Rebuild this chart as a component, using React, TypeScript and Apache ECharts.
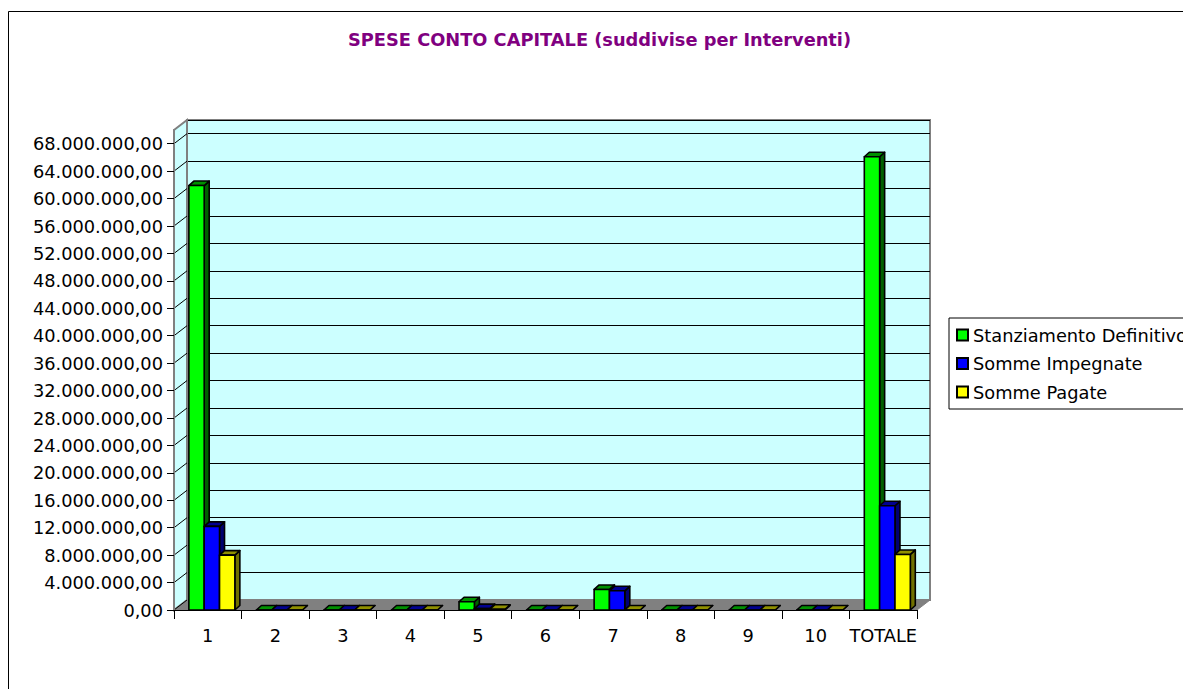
import React, { useEffect, useRef } from "react";
import * as echarts from "echarts";

const categories = ["1", "2", "3", "4", "5", "6", "7", "8", "9", "10", "TOTALE"];
const stanziamento = [61900000, 0, 0, 0, 1200000, 0, 3000000, 0, 0, 0, 66100000];
const impegnate = [12200000, 0, 0, 0, 200000, 0, 2800000, 0, 0, 0, 15200000];
const pagate = [8000000, 0, 0, 0, 100000, 0, 0, 0, 0, 0, 8100000];
const tickValues = [0, 4e6, 8e6, 12e6, 16e6, 20e6, 24e6, 28e6, 32e6, 36e6, 40e6, 44e6, 48e6, 52e6, 56e6, 60e6, 64e6, 68e6];
const seriesNames = ["Stanziamento Definitivo", "Somme Impegnate", "Somme Pagate"];
const seriesValues = [stanziamento, impegnate, pagate];
const frontColors = ["#00ff00", "#0000ff", "#ffff00"];
const topColors = ["#009000", "#000090", "#909000"];
const sideColors = ["#006000", "#000070", "#707000"];

const FONT = "DejaVu Sans";
const FS = 17.8;

function fmt(v: number): string {
  return Math.round(v).toString().replace(/\B(?=(\d{3})+(?!\d))/g, ".") + ",00";
}

export default function App() {
  const ref = useRef<HTMLDivElement>(null);
  useEffect(() => {
    if (!ref.current) return;
    const chart = echarts.init(ref.current, null, { renderer: "svg" });
    const DX = 5;
    const DY = -4.5;
    const barSeries = seriesValues.map((vals, s) => ({
      type: "custom",
      name: seriesNames[s],
      xAxisIndex: 0,
      yAxisIndex: 0,
      z: 10,
      itemStyle: { color: frontColors[s] },
      data: vals.map((v, i) => [i, v]),
      renderItem: (params: any, api: any) => {
        const cat = api.value(0);
        const v = api.value(1);
        const top = api.coord([cat, v]);
        const base = api.coord([cat, 0]);
        const bw = api.size([1, 0])[0];
        const w = bw * 0.227;
        const x0 = top[0] - bw * 0.28 + s * w;
        const ty = top[1];
        const by = base[1];
        const stroke = { stroke: "#000", lineWidth: 1.6, lineJoin: "round" };
        return {
          type: "group",
          children: [
            {
              type: "polygon",
              z2: s * 10,
              shape: { points: [[x0 + w, ty], [x0 + w + DX, ty + DY], [x0 + w + DX, by + DY], [x0 + w, by]] },
              style: { fill: sideColors[s], ...stroke },
            },
            {
              type: "polygon",
              z2: s * 10 + 1,
              shape: { points: [[x0, ty], [x0 + DX, ty + DY], [x0 + w + DX, ty + DY], [x0 + w, ty]] },
              style: { fill: topColors[s], ...stroke },
            },
            {
              type: "rect",
              z2: s * 10 + 2,
              shape: { x: x0, y: ty, width: w, height: Math.max(0, by - ty) },
              style: { fill: frontColors[s], ...stroke },
            },
          ],
        };
      },
    }));

    const option: any = {
      animation: false,
      backgroundColor: "#fff",
      title: {
        text: "SPESE CONTO CAPITALE (suddivise per Interventi)",
        left: 348,
        top: 30,
        padding: 0,
        textStyle: { fontFamily: FONT, fontSize: 17.8, fontWeight: "bold", color: "#800080" },
      },
      legend: {
        orient: "vertical",
        left: 949,
        top: 318,
        padding: [8, 40, 8, 7],
        itemGap: 10.5,
        itemWidth: 11,
        itemHeight: 11,
        borderColor: "#000",
        borderWidth: 1,
        backgroundColor: "#fff",
        textStyle: { fontFamily: FONT, fontSize: FS, color: "#000" },
        data: seriesNames.map((n, i) => ({
          name: n,
          icon: "rect",
          itemStyle: { color: frontColors[i], borderColor: "#000", borderWidth: 2 },
        })),
      },
      grid: [
        { left: 174, top: 130, width: 743, height: 480, show: false },
        {
          left: 187,
          top: 120,
          width: 743,
          height: 480,
          show: true,
          backgroundColor: "#ccffff",
          borderColor: "#808080",
          borderWidth: 2,
        },
      ],
      xAxis: [
        {
          gridIndex: 0,
          type: "category",
          data: categories,
          z: 5,
          axisLine: { lineStyle: { color: "#000", width: 1 } },
          axisTick: { show: true, length: 9, lineStyle: { color: "#000" } },
          axisLabel: { fontFamily: FONT, fontSize: FS, color: "#000", margin: 16, interval: 0 },
          splitLine: { show: false },
        },
        { gridIndex: 1, type: "value", min: 0, max: 1, show: false },
      ],
      yAxis: [
        {
          gridIndex: 0,
          type: "value",
          min: 0,
          max: 70000000,
          interval: 4000000,
          z: 5,
          axisLine: { show: true, lineStyle: { color: "#808080", width: 2 } },
          axisTick: { show: true, length: 7, customValues: tickValues, lineStyle: { color: "#000" } },
          axisLabel: {
            fontFamily: FONT,
            fontSize: FS,
            color: "#000",
            margin: 11,
            customValues: tickValues,
            formatter: (v: number) => fmt(v),
          },
          splitLine: { show: false },
        },
        {
          gridIndex: 1,
          type: "value",
          min: 0,
          max: 70000000,
          interval: 4000000,
          axisLine: { show: false },
          axisTick: { show: false },
          axisLabel: { show: false },
          splitLine: { show: true, lineStyle: { color: "#000", width: 1 } },
        },
      ],
      graphic: [
        {
          type: "rect",
          z: 0,
          silent: true,
          shape: { x: 8.5, y: 11.5, width: 1400, height: 900 },
          style: { fill: "none", stroke: "#000", lineWidth: 1 },
        },
        {
          type: "polygon",
          z: 1,
          silent: true,
          shape: { points: [[174, 130], [187, 120], [187, 600], [174, 610]] },
          style: { fill: "#ccffff", stroke: "#808080", lineWidth: 2 },
        },
        {
          type: "polygon",
          z: 1,
          silent: true,
          shape: { points: [[174, 610], [187, 600], [930, 600], [917, 610]] },
          style: { fill: "#808080", stroke: "#808080", lineWidth: 1 },
        },
      ],
      series: [
        {
          type: "custom",
          name: "sidewall",
          xAxisIndex: 0,
          yAxisIndex: 0,
          z: 2,
          silent: true,
          data: tickValues.map((v) => [0, v]),
          renderItem: (params: any, api: any) => {
            const y = api.coord([0, api.value(1)])[1];
            const x = params.coordSys.x;
            return {
              type: "line",
              shape: { x1: x, y1: y, x2: x + 13, y2: y - 10 },
              style: { stroke: "#000", lineWidth: 1 },
            };
          },
        },
        ...barSeries,
      ],
    };
    chart.setOption(option);
    return () => chart.dispose();
  }, []);
  return (
    <div
      ref={ref}
      style={{ position: "fixed", left: 0, top: 0, width: 1183, height: 689 }}
    />
  );
}
